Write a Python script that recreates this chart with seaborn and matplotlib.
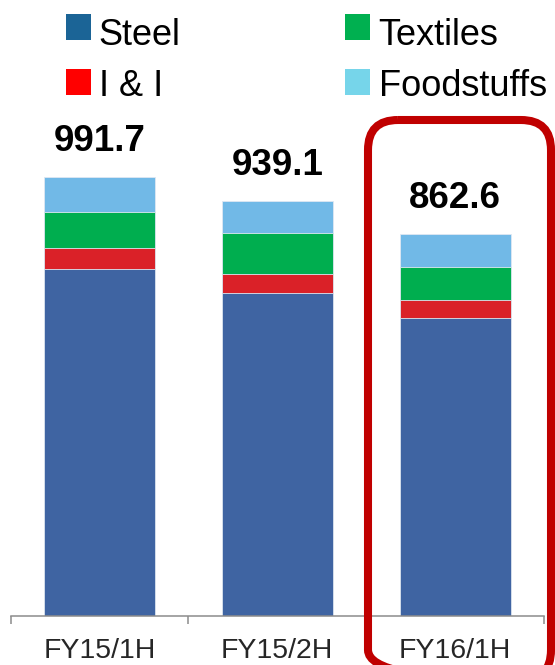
import matplotlib
matplotlib.use("Agg")
import matplotlib.pyplot as plt
import seaborn as sns
import pandas as pd
import numpy as np
from matplotlib.patches import FancyBboxPatch, Rectangle

# ---- data ----
periods = ["FY15/1H", "FY15/2H", "FY16/1H"]
steel = [784.4, 729.6, 672.7]
i_and_i = [48.0, 42.8, 40.5]
textiles = [81.8, 93.7, 76.6]
foodstuffs = [77.5, 73.0, 72.8]
totals = [991.7, 939.1, 862.6]
legend_labels = ["Steel", "I & I", "Textiles", "Foodstuffs"]

# ---- style ----
sns.set_style("white")
plt.rcParams["font.family"] = ["Liberation Sans", "DejaVu Sans"]

bar_colors = {"Steel": "#3F64A2", "I & I": "#DA2128", "Textiles": "#00AE4F", "Foodstuffs": "#71B9E7"}
legend_colors = {"Steel": "#1B6496", "I & I": "#FF0000", "Textiles": "#00B050", "Foodstuffs": "#76D5EA"}

W, H = 555, 665
fig = plt.figure(figsize=(W / 100, H / 100), dpi=100)

base_y = 616
top_y = 100
px_per_unit = 0.4424
ax = fig.add_axes([10.6 / W, (H - base_y) / H, (544 - 10.6) / W, (base_y - top_y) / H])

df = pd.DataFrame({"period": periods, "Steel": steel, "I & I": i_and_i,
                   "Textiles": textiles, "Foodstuffs": foodstuffs})
order = ["Steel", "I & I", "Textiles", "Foodstuffs"]
cum = df[order].cumsum(axis=1)

# draw from the top layer down so lower segments overlay
for name in reversed(order):
    sns.barplot(data=pd.DataFrame({"period": periods, "val": cum[name]}),
                x="period", y="val", order=periods, color=bar_colors[name],
                saturation=1, width=0.625, ax=ax,
                edgecolor="#dfe8f2", linewidth=0.6)

ax.set_xlim(-0.5, 2.5)
ax.set_ylim(0, (base_y - top_y) / px_per_unit)
ax.set_xlabel("")
ax.set_ylabel("")
ax.set_yticks([])
for s in ["left", "right", "top"]:
    ax.spines[s].set_visible(False)
ax.spines["bottom"].set_color("#8c8c8c")
ax.spines["bottom"].set_linewidth(1.1)

ax.set_xticks(range(len(periods)))
ax.set_xticklabels(periods, fontsize=20.5)
ax.set_xticks([-0.5, 0.5, 1.5, 2.5], minor=True)
ax.tick_params(axis="x", which="major", bottom=False, length=0, pad=15.5)
ax.tick_params(axis="x", which="minor", bottom=True, length=5.8, width=1.1,
               color="#8c8c8c", direction="out")

for i, t in enumerate(totals):
    ax.annotate(f"{t:.1f}", xy=(i, t), xytext=(0, 18.7), textcoords="offset points",
                ha="center", va="baseline", fontsize=26.5, fontweight="bold", color="black")

# ---- overlay in pixel coordinates: legend and highlight box ----
ov = fig.add_axes([0, 0, 1, 1], zorder=10)
ov.set_xlim(0, W)
ov.set_ylim(H, 0)
ov.axis("off")
ov.patch.set_alpha(0)

leg_pos = {"Steel": (66, 14, 98, 45.3), "I & I": (66, 69, 99, 96.3),
           "Textiles": (345, 14, 378, 45.3), "Foodstuffs": (345, 69, 379, 96.3)}
for lab in legend_labels:
    px, py, tx, ty = leg_pos[lab]
    ov.add_patch(Rectangle((px, py), 25, 26, facecolor=legend_colors[lab], edgecolor="none"))
    ov.text(tx, ty, lab, fontsize=26, va="baseline", ha="left", color="black")

box = FancyBboxPatch((368, 120), 551 - 368, 680 - 120,
                     boxstyle="round,pad=0,rounding_size=30",
                     fill=False, edgecolor="#C00000", linewidth=5.8)
ov.add_patch(box)

fig.savefig("out.png", dpi=100)
